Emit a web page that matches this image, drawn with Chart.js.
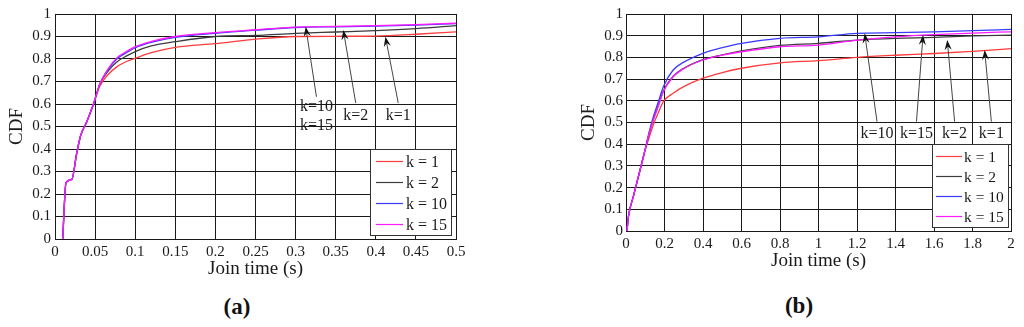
<!DOCTYPE html>
<html>
<head>
<meta charset="utf-8">
<script src="https://cdn.jsdelivr.net/npm/chart.js@4"></script>
<style>
  body { margin: 0; background: #fff; width: 1024px; height: 327px; position: relative; overflow: hidden;
         font-family: 'Liberation Serif', 'Times New Roman', serif; }
  .box { position: absolute; top: 0; height: 290px; }
  .cap { position: absolute; font-weight: bold; font-size: 23px; color: #111; transform: translate(-50%, -50%); }
</style>
</head>
<body>
<div class="box" style="left:0;width:490px"><canvas id="chartA"></canvas></div>
<div class="box" style="left:570px;width:454px"><canvas id="chartB"></canvas></div>
<div class="cap" style="left:237px;top:307px">(a)</div>
<div class="cap" style="left:799px;top:306px">(b)</div>
<script>
// series names / colours
const seriesLabels = ['k = 1', 'k = 2', 'k = 10', 'k = 15'];
const seriesColors = ['#ff3b3b', '#3c3c3c', '#3a3aff', '#ff1aff'];

// (a) join time up to 0.5 s
const timeA = [0.0096, 0.0137, 0.021, 0.027, 0.032, 0.0395, 0.048, 0.056, 0.066, 0.077, 0.09, 0.1, 0.12, 0.15, 0.2, 0.25, 0.3, 0.35, 0.4, 0.45, 0.5];
const cdfA_k1  = [0, 0.25, 0.265, 0.38, 0.46, 0.52, 0.6, 0.68, 0.73, 0.765, 0.79, 0.803, 0.828, 0.852, 0.868, 0.888, 0.900, 0.901, 0.902, 0.910, 0.921];
const cdfA_k2  = [0, 0.25, 0.265, 0.38, 0.46, 0.52, 0.6, 0.69, 0.745, 0.787, 0.815, 0.833, 0.858, 0.877, 0.9, 0.905, 0.914, 0.92, 0.926, 0.935, 0.948];
const cdfA_k10 = [0, 0.25, 0.265, 0.38, 0.46, 0.52, 0.6, 0.69, 0.752, 0.8, 0.83, 0.85, 0.874, 0.896, 0.914, 0.928, 0.94, 0.943, 0.946, 0.951, 0.957];
const cdfA_k15 = [0, 0.25, 0.265, 0.38, 0.46, 0.52, 0.6, 0.69, 0.755, 0.805, 0.835, 0.855, 0.878, 0.9, 0.917, 0.93, 0.942, 0.945, 0.948, 0.953, 0.959];

// (b) join time up to 2 s
const timeB = [0.005, 0.014, 0.038, 0.073, 0.099, 0.12, 0.142, 0.17, 0.194, 0.245, 0.3, 0.4, 0.5, 0.6, 0.8, 1.0, 1.2, 1.4, 1.6, 1.8, 2.0];
const cdfB_k1  = [0, 0.074, 0.158, 0.281, 0.373, 0.43, 0.49, 0.55, 0.596, 0.635, 0.665, 0.704, 0.73, 0.75, 0.775, 0.785, 0.80, 0.81, 0.818, 0.828, 0.84];
const cdfB_k2  = [0, 0.074, 0.158, 0.281, 0.373, 0.448, 0.515, 0.585, 0.645, 0.713, 0.75, 0.79, 0.812, 0.83, 0.855, 0.865, 0.88, 0.888, 0.892, 0.899, 0.903];
const cdfB_k10 = [0, 0.074, 0.158, 0.281, 0.373, 0.455, 0.527, 0.6, 0.665, 0.742, 0.778, 0.819, 0.845, 0.865, 0.888, 0.895, 0.911, 0.914, 0.918, 0.923, 0.929];
const cdfB_k15 = [0, 0.074, 0.158, 0.281, 0.373, 0.448, 0.512, 0.58, 0.642, 0.711, 0.748, 0.788, 0.81, 0.826, 0.849, 0.857, 0.88, 0.895, 0.905, 0.912, 0.918];

// arrow notes (data coords): text lines, arrow tip, arrow tail, text y
const notesA_text = [['k=10', 'k=15'], ['k=2'], ['k=1']];
const notesA_tip  = [[0.3126, 0.9436], [0.3595, 0.929], [0.412, 0.899]];
const notesA_tail = [[0.326, 0.632], [0.375, 0.604], [0.428, 0.604]];
const notesA_textY = [0.587, 0.548, 0.548];

const notesB_text = [['k=10'], ['k=15'], ['k=2'], ['k=1']];
const notesB_tip  = [[1.24, 0.911], [1.543, 0.903], [1.669, 0.88], [1.863, 0.834]];
const notesB_tail = [[1.304, 0.504], [1.509, 0.504], [1.707, 0.504], [1.898, 0.504]];
const notesB_textY = [0.447, 0.447, 0.447, 0.447];

const SERIF = "'Liberation Serif', 'Times New Roman', serif";
const INK = '#1a1a1a';
const fmt = v => Number(v.toFixed(2)).toString();

function datasets(times, series) {
  const order = [3, 2, 1, 0]; // k=15 on top
  return series.map((ys, i) => ({
    label: seriesLabels[i],
    data: times.map((t, j) => ({ x: t, y: ys[j] })),
    borderColor: seriesColors[i],
    borderWidth: 1.3,
    pointRadius: 0,
    fill: false,
    cubicInterpolationMode: 'monotone',
    order: order[i]
  }));
}

// legend box drawn inside the plot area
function legendBox(g) {
  return {
    id: 'legendBox',
    afterDatasetsDraw(chart) {
      const { ctx, chartArea } = chart;
      const x = Math.round(chartArea.right - g.right - g.width);
      const y = Math.round(chartArea.bottom - g.bottom - g.height);
      ctx.save();
      ctx.fillStyle = '#fff';
      ctx.fillRect(x, y, g.width, g.height);
      ctx.strokeStyle = '#333';
      ctx.lineWidth = 1;
      ctx.strokeRect(x + 0.5, y + 0.5, g.width, g.height);
      ctx.font = g.size + 'px ' + SERIF;
      ctx.textBaseline = 'middle';
      chart.data.datasets.forEach((ds, i) => {
        const ly = Math.round(y + g.first + i * g.step) + 0.5;
        ctx.strokeStyle = ds.borderColor;
        ctx.lineWidth = 1.2;
        ctx.beginPath();
        ctx.moveTo(x + g.lineFrom, ly);
        ctx.lineTo(x + g.lineTo, ly);
        ctx.stroke();
        ctx.fillStyle = INK;
        ctx.fillText(ds.label, x + g.textX, ly + 1);
      });
      ctx.restore();
    }
  };
}

// labelled arrows
function arrowNotes(texts, tips, tails, textY) {
  return {
    id: 'arrowNotes',
    afterDatasetsDraw(chart) {
      const { ctx } = chart;
      const xs = chart.scales.x, ys = chart.scales.y;
      ctx.save();
      ctx.font = '16px ' + SERIF;
      ctx.textAlign = 'center';
      ctx.textBaseline = 'middle';
      texts.forEach((lines, i) => {
        const tx = xs.getPixelForValue(tips[i][0]), ty = ys.getPixelForValue(tips[i][1]);
        const sx = xs.getPixelForValue(tails[i][0]), sy = ys.getPixelForValue(tails[i][1]);
        const a = Math.atan2(ty - sy, tx - sx);
        const c = Math.cos(a), s = Math.sin(a);
        const hl = 10, hw = 3.6;
        ctx.strokeStyle = '#444';
        ctx.lineWidth = 1;
        ctx.beginPath();
        ctx.moveTo(sx, sy);
        ctx.lineTo(tx - hl * 0.6 * c, ty - hl * 0.6 * s);
        ctx.stroke();
        ctx.fillStyle = '#111';
        ctx.beginPath();
        ctx.moveTo(tx, ty);
        ctx.lineTo(tx - hl * c - hw * s, ty - hl * s + hw * c);
        ctx.lineTo(tx - hl * 0.65 * c, ty - hl * 0.65 * s);
        ctx.lineTo(tx - hl * c + hw * s, ty - hl * s - hw * c);
        ctx.closePath();
        ctx.fill();
        ctx.fillStyle = INK;
        const y0 = ys.getPixelForValue(textY[i]);
        lines.forEach((t, j) => ctx.fillText(t, sx, y0 + j * 19));
      });
      ctx.restore();
    }
  };
}

function axes(xMax, xStep, yWidth, xHeight, yTitlePad, xTitlePad, tickPad) {
  const tickFont = { family: SERIF, size: 15 };
  const titleFont = { family: SERIF, size: 19, lineHeight: 1 };
  const grid = { color: INK, lineWidth: 1, drawTicks: false };
  return {
    x: {
      type: 'linear', min: 0, max: xMax,
      afterFit(s) { s.height = xHeight; },
      ticks: { stepSize: xStep, padding: 4, autoSkip: false, maxRotation: 0, font: tickFont, color: INK, callback: fmt },
      grid: grid,
      border: { color: INK },
      title: { display: true, text: 'Join time (s)', font: titleFont, color: INK, padding: { bottom: xTitlePad } }
    },
    y: {
      type: 'linear', min: 0, max: 1,
      afterFit(s) { s.width = yWidth; },
      ticks: { stepSize: 0.1, padding: tickPad, font: tickFont, color: INK, callback: fmt },
      grid: grid,
      border: { color: INK },
      title: { display: true, text: 'CDF', font: titleFont, color: INK, padding: { top: yTitlePad } }
    }
  };
}

// (a)
new Chart(document.getElementById('chartA'), {
  type: 'line',
  data: { datasets: datasets(timeA, [cdfA_k1, cdfA_k2, cdfA_k10, cdfA_k15]) },
  options: {
    responsive: true, maintainAspectRatio: false, animation: false, events: [],
    layout: { padding: { left: 0, top: 14, right: 34, bottom: 0 } },
    plugins: { legend: { display: false }, tooltip: { enabled: false } },
    scales: axes(0.5, 0.05, 55, 51, 7.5, 11.5, 4)
  },
  plugins: [
    arrowNotes(notesA_text, notesA_tip, notesA_tail, notesA_textY),
    legendBox({ width: 81, height: 86, right: 5, bottom: 4, first: 12, step: 21, lineFrom: 6, lineTo: 33, textX: 36, size: 16 })
  ]
});

// (b)
new Chart(document.getElementById('chartB'), {
  type: 'line',
  data: { datasets: datasets(timeB, [cdfB_k1, cdfB_k2, cdfB_k10, cdfB_k15]) },
  options: {
    responsive: true, maintainAspectRatio: false, animation: false, events: [],
    layout: { padding: { left: 0, top: 14, right: 13, bottom: 0 } },
    plugins: { legend: { display: false }, tooltip: { enabled: false } },
    scales: axes(2, 0.2, 56, 59, 10, 19.5, 3)
  },
  plugins: [
    arrowNotes(notesB_text, notesB_tip, notesB_tail, notesB_textY),
    legendBox({ width: 76, height: 83, right: 3, bottom: 4, first: 12, step: 20, lineFrom: 4, lineTo: 30, textX: 32, size: 15.5 })
  ]
});
</script>
</body>
</html>
